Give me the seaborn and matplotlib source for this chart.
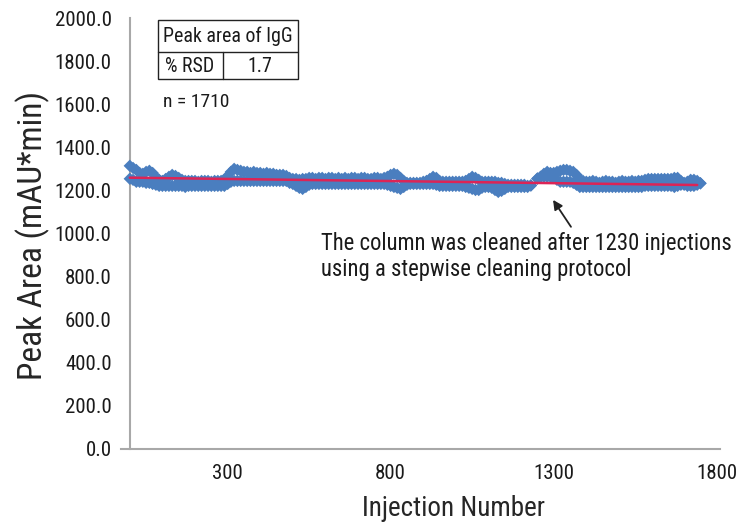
import numpy as np
import pandas as pd
import matplotlib
matplotlib.use("Agg")
import matplotlib.pyplot as plt
import seaborn as sns
from matplotlib import font_manager
from matplotlib.patches import Rectangle
from matplotlib.lines import Line2D

# ---------------- data ----------------
nan = np.nan
injection_step = 10
injection_count = 176  # 0 .. 1750

# upper edge of the scatter band (peak area, mAU*min)
upper_area = [
    1314, 1304, 1295, 1281, 1277, 1286, 1291, 1281, 1263, 1249,
    1244, 1253, 1263, 1272, 1267, 1258, 1249, 1244, 1244, 1244,
    1244, 1240, 1244, 1244, 1244, 1240, 1244, 1244, 1244, 1249,
    1267, 1286, 1300, 1295, 1291, 1286, 1286, 1281, 1286, 1281,
    1281, 1277, 1281, 1277, 1277, 1272, 1272, 1272, 1267, 1258,
    1253, 1253, 1249, 1253, 1253, 1258, 1258, 1253, 1258, 1258,
    1253, 1258, 1258, 1253, 1258, 1253, 1258, 1253, 1258, 1258,
    1253, 1258, 1258, 1253, 1253, 1258, 1258, 1253, 1258, 1263,
    1272, 1277, 1272, 1258, 1244, 1235, 1235, 1235, 1235, 1235,
    1240, 1244, 1253, 1263, 1258, 1244, 1240, 1240, 1240, 1240,
    1240, 1240, 1240, 1244, 1253, 1263, 1258, 1249, 1240, 1240,
    1240, 1240, 1240, 1235, 1235, 1230, 1226, 1226, 1226, 1226,
    1226, 1226, 1221, 1223, nan, 1255, 1263, 1277, 1286, 1281,
    1281, 1286, 1291, 1295, 1295, 1291, 1286, 1272, 1253, 1244,
    1240, 1240, 1244, 1240, 1235, 1240, 1244, 1240, 1240, 1235,
    1240, 1244, 1240, 1240, 1244, 1240, 1244, 1244, 1249, 1253,
    1253, 1253, 1253, 1253, 1253, 1253, 1253, 1258, 1258, 1244,
    1235, 1240, 1249, 1249, 1244, 1233,
]

# lower edge of the scatter band (peak area, mAU*min)
lower_area = [
    1254, 1249, 1240, 1240, 1240, 1235, 1235, 1230, 1226, 1221,
    1221, 1221, 1221, 1221, 1221, 1221, 1221, 1216, 1221, 1221,
    1221, 1221, 1221, 1221, 1221, 1221, 1221, 1221, 1221, 1221,
    1230, 1240, 1244, 1244, 1244, 1244, 1244, 1244, 1244, 1244,
    1244, 1244, 1244, 1244, 1244, 1244, 1244, 1244, 1244, 1235,
    1230, 1221, 1212, 1207, 1216, 1226, 1230, 1230, 1230, 1230,
    1230, 1230, 1230, 1230, 1230, 1230, 1230, 1230, 1230, 1230,
    1230, 1230, 1230, 1230, 1230, 1230, 1230, 1230, 1230, 1226,
    1221, 1216, 1212, 1207, 1216, 1226, 1230, 1230, 1230, 1230,
    1230, 1230, 1230, 1230, 1226, 1221, 1221, 1221, 1221, 1221,
    1221, 1221, 1221, 1216, 1212, 1207, 1202, 1202, 1212, 1216,
    1216, 1212, 1202, 1193, 1198, 1207, 1216, 1216, 1216, 1216,
    1216, 1216, 1216, 1223, nan, 1255, 1263, 1263, 1263, 1263,
    1258, 1249, 1240, 1240, 1240, 1240, 1235, 1226, 1216, 1216,
    1216, 1216, 1216, 1216, 1216, 1216, 1216, 1216, 1216, 1216,
    1216, 1216, 1216, 1216, 1216, 1216, 1216, 1216, 1221, 1221,
    1221, 1221, 1221, 1221, 1221, 1221, 1221, 1216, 1221, 1226,
    1226, 1221, 1221, 1221, 1226, 1233,
]

trend_injection = [0, 1740]
trend_area = [1259, 1225]

y_ticks = [0, 200, 400, 600, 800, 1000, 1200, 1400, 1600, 1800, 2000]
x_ticks = [300, 800, 1300, 1800]

table_title = "Peak area of IgG"
table_row = ["% RSD", "1.7"]
n_label = "n = 1710"
note_text = "The column was cleaned after 1230 injections\nusing a stepwise cleaning protocol"
x_title = "Injection Number"
y_title = "Peak Area (mAU*min)"

# ---------------- styling ----------------
sns.set_theme(style="white")
avail = {f.name for f in font_manager.fontManager.ttflist}
prefs = ["Liberation Sans Narrow", "DejaVu Sans Condensed", "Roboto Condensed",
         "Liberation Sans", "DejaVu Sans"]
fam = [f for f in prefs if f in avail] + ["DejaVu Sans"]
plt.rcParams["font.family"] = fam
plt.rcParams["text.color"] = "#1a1a1a"

W, H = 748, 523
fig = plt.figure(figsize=(W / 100, H / 100), dpi=100)
ax = fig.add_axes([121 / W, 1 - 449 / H, 599 / W, 431 / H])

injection = np.arange(injection_count) * injection_step
df = pd.DataFrame({
    "injection": np.concatenate([injection, injection]),
    "area": np.concatenate([upper_area, lower_area]),
}).dropna()

blue = "#4A7EBF"
sns.scatterplot(data=df, x="injection", y="area", marker="D", s=40,
                color=blue, edgecolor="none", linewidth=0, ax=ax,
                clip_on=False, zorder=3, legend=False)
sns.lineplot(x=trend_injection, y=trend_area, color="#DC2456", lw=1.8,
             ax=ax, zorder=4)

ax.set_xlim(-27, 1810)
ax.set_ylim(0, 2000)
ax.set_yticks(y_ticks)
ax.set_yticklabels([f"{v:.1f}" for v in y_ticks])
ax.set_xticks(x_ticks)
ax.set_xticklabels([str(v) for v in x_ticks])

for s in ["top", "right"]:
    ax.spines[s].set_visible(False)
spine_col = "#A8A8A8"
ax.spines["left"].set_position(("data", 0))
ax.spines["left"].set_color(spine_col)
ax.spines["bottom"].set_color(spine_col)
ax.spines["left"].set_linewidth(1.5)
ax.spines["bottom"].set_linewidth(1.5)
ax.spines["left"].set_zorder(2)

ax.tick_params(axis="y", length=0, pad=13, labelsize=15, colors="#1a1a1a")
ax.tick_params(axis="x", length=0, pad=11, labelsize=15, colors="#1a1a1a")

ax.set_xlabel(x_title, fontsize=19.5)
ax.set_ylabel(y_title, fontsize=24)
ax.xaxis.set_label_coords((453 - 121) / 599, (449 - 495) / 431)
ax.yaxis.set_label_coords((50 - 121) / 599, (449 - 236) / 431)


def fx(px):
    return px / W


def fy(py):
    return 1 - py / H


# small table box
ec = "#222222"
fig.add_artist(Rectangle((fx(158), fy(79)), fx(298) - fx(158), fy(20) - fy(79),
                         fill=False, edgecolor=ec, lw=1.0, transform=fig.transFigure))
fig.add_artist(Line2D([fx(158), fx(298)], [fy(52), fy(52)], color=ec, lw=1.0,
                      transform=fig.transFigure))
fig.add_artist(Line2D([fx(223), fx(223)], [fy(52), fy(79)], color=ec, lw=1.0,
                      transform=fig.transFigure))
fig.text(fx(228), fy(36), table_title, fontsize=14.3, ha="center", va="center")
fig.text(fx(190), fy(66), table_row[0], fontsize=14.3, ha="center", va="center")
fig.text(fx(260), fy(66), table_row[1], fontsize=14.3, ha="center", va="center")
fig.text(fx(163), fy(102), n_label, fontsize=14, ha="left", va="center")

# annotation
fig.text(fx(321), fy(256.5), note_text, fontsize=16.3, ha="left", va="center",
         linespacing=1.2)
ax.annotate("", xy=(1298, 1156), xytext=(1353, 1031),
            arrowprops=dict(arrowstyle="-|>", color="#222222", lw=1.3,
                            mutation_scale=14, shrinkA=0, shrinkB=0))

fig.savefig("out.png", dpi=100)
